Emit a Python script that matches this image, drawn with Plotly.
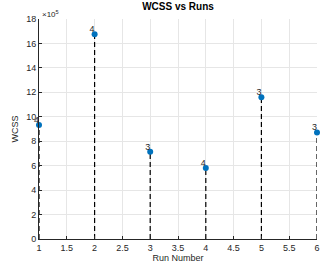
import plotly.graph_objects as go

runs = [1, 2, 3, 4, 5, 6]
wcss = [9.33e5, 16.75e5, 7.13e5, 5.8e5, 11.6e5, 8.72e5]
labels = ["4", "4", "3", "4", "3", "3"]
scale = 1e5

y_scaled = [v / scale for v in wcss]

stem_x, stem_y = [], []
for xv, yv in zip(runs, y_scaled):
    stem_x += [xv, xv, None]
    stem_y += [0, yv, None]

fig = go.Figure()
fig.add_trace(go.Scatter(x=stem_x, y=stem_y, mode="lines",
                         line=dict(color="black", width=1.2, dash="5px,3px"),
                         hoverinfo="skip", showlegend=False, cliponaxis=False))
fig.add_trace(go.Scatter(x=runs, y=y_scaled, mode="markers",
                         marker=dict(color="#0072BD", size=6),
                         showlegend=False, cliponaxis=False))
fig.add_trace(go.Scatter(x=runs, y=y_scaled, mode="text",
                         text=labels, textposition="top left",
                         textfont=dict(size=9, color="#262626", family="Liberation Sans, Arial"),
                         showlegend=False, cliponaxis=False, hoverinfo="skip"))

font = dict(family="Liberation Sans, Arial, sans-serif", size=9, color="#262626")
fig.update_layout(
    width=320, height=266,
    margin=dict(l=39, r=3, t=19, b=27),
    paper_bgcolor="white", plot_bgcolor="white",
    font=font,
    title=dict(text="<b>WCSS vs Runs</b>", x=0.5, xref="paper", xanchor="center",
               y=1, yref="container", yanchor="top", pad=dict(t=3),
               font=dict(size=10, color="black")),
    xaxis=dict(range=[1, 6], dtick=0.5, tick0=1, showgrid=True, gridcolor="#e6e6e6",
               gridwidth=1, showline=True, linecolor="#262626", linewidth=1,
               ticks="inside", ticklen=3, tickcolor="#262626", zeroline=False,
               automargin=False,
               title=dict(text="Run Number", standoff=2, font=dict(size=9)),
               tickfont=dict(size=9)),
    yaxis=dict(range=[0, 18], dtick=2, showgrid=True, gridcolor="#e6e6e6",
               gridwidth=1, showline=True, linecolor="#262626", linewidth=1,
               ticks="inside", ticklen=3, tickcolor="#262626", zeroline=False,
               automargin=False,
               title=dict(text="WCSS", standoff=6, font=dict(size=9)),
               tickfont=dict(size=9)),
    annotations=[dict(text="×10<sup>5</sup>", xref="paper", yref="paper", x=0, y=1,
                      xanchor="left", yanchor="bottom", showarrow=False,
                      font=dict(size=8, color="#262626"), yshift=-2, xshift=1)],
)

fig.write_html("out.html", config={"displayModeBar": False},
               post_script="document.body.style.margin='0';document.body.style.overflow='hidden';")
